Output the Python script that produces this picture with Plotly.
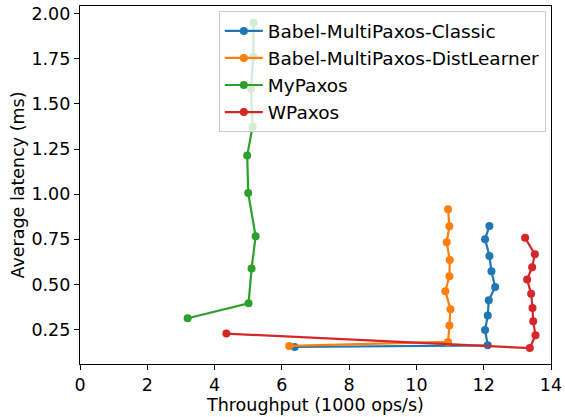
import plotly.graph_objects as go

series_names = ["Babel-MultiPaxos-Classic", "Babel-MultiPaxos-DistLearner", "MyPaxos", "WPaxos"]
colors = ["#1f77b4", "#ff7f0e", "#2ca02c", "#d62728"]

classic_x = [6.38, 12.12, 12.04, 12.12, 12.15, 12.34, 12.23, 12.17, 12.04, 12.17]
classic_y = [0.154, 0.163, 0.248, 0.328, 0.413, 0.486, 0.573, 0.658, 0.751, 0.824]

dist_x = [6.22, 10.94, 10.98, 11.01, 10.86, 10.98, 10.99, 10.90, 10.98, 10.94]
dist_y = [0.160, 0.182, 0.273, 0.363, 0.463, 0.546, 0.636, 0.734, 0.823, 0.917]

mypaxos_x = [3.20, 5.01, 5.10, 5.22, 5.00, 4.97, 5.13, 5.08, 5.15, 5.16]
mypaxos_y = [0.313, 0.396, 0.588, 0.767, 1.006, 1.214, 1.373, 1.583, 1.761, 1.949]

wpaxos_x = [4.35, 13.37, 13.54, 13.47, 13.45, 13.41, 13.29, 13.44, 13.52, 13.23]
wpaxos_y = [0.228, 0.148, 0.219, 0.296, 0.370, 0.448, 0.527, 0.596, 0.668, 0.758]

xs = [classic_x, dist_x, mypaxos_x, wpaxos_x]
ys = [classic_y, dist_y, mypaxos_y, wpaxos_y]

x_ticks = [0, 2, 4, 6, 8, 10, 12, 14]
y_ticks = [0.25, 0.50, 0.75, 1.00, 1.25, 1.50, 1.75, 2.00]

fig = go.Figure()
for name, c, x, y in zip(series_names, colors, xs, ys):
    fig.add_trace(go.Scatter(x=x, y=y, mode="lines+markers", name=name,
                             line=dict(color=c, width=2.2),
                             marker=dict(color=c, size=8)))

FONT = "DejaVu Sans"
axis_common = dict(showline=True, linecolor="black", linewidth=1.2, mirror=True,
                   ticks="outside", ticklen=5, tickwidth=1.2, tickcolor="black",
                   showgrid=False, zeroline=False, automargin=False,
                   tickfont=dict(family=FONT, size=17.5, color="black"))

fig.update_layout(
    width=565, height=417,
    margin=dict(l=80, r=14, t=6, b=53),
    paper_bgcolor="white", plot_bgcolor="white",
    font=dict(family=FONT, size=17.5, color="black"),
    xaxis=dict(range=[0, 14], tickvals=x_ticks, ticktext=[str(t) for t in x_ticks],
               title=dict(text="Throughput (1000 ops/s)", font=dict(family=FONT, size=17.5), standoff=3),
               **axis_common),
    yaxis=dict(range=[0.0598, 2.0416], tickvals=y_ticks, tickformat=".2f",
               title=dict(text="Average latency (ms)", font=dict(family=FONT, size=17.5), standoff=2),
               **axis_common),
    legend=dict(x=0.989, y=0.985, xanchor="right", yanchor="top",
                bgcolor="rgba(255,255,255,0.8)", bordercolor="#cccccc", borderwidth=1,
                font=dict(family=FONT, size=18.5, color="black"),
                itemwidth=38, tracegroupgap=0),
    showlegend=True,
)

fig.write_html("out.html", config={"displayModeBar": False},
               post_script="document.body.style.margin='0';document.body.style.overflow='hidden';")
